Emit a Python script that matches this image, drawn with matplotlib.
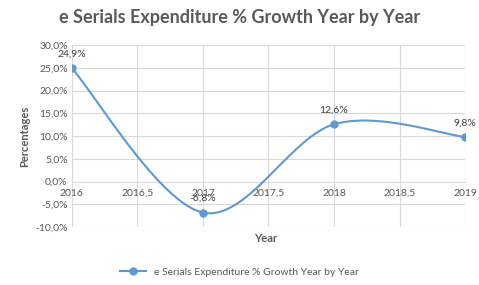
import numpy as np
import matplotlib
matplotlib.use("Agg")
import matplotlib.pyplot as plt
from matplotlib.ticker import FuncFormatter

years = [2016, 2017, 2018, 2019]
growth = [24.9, -6.8, 12.6, 9.8]
labels = ["24,9%", "-6,8%", "12,6%", "9,8%"]
series_name = "e Serials Expenditure % Growth Year by Year"

plt.rcParams['font.family'] = ['Lato', 'DejaVu Sans']
blue = '#5B9BD5'
gray = '#595959'

# excel-like smoothed line (bezier through the points)
x = np.array(years, dtype=float)
y = np.array(growth, dtype=float)
xs, ys = [], []
t = np.linspace(0, 1, 60)
for i in range(len(x) - 1):
    i0 = max(i - 1, 0)
    i3 = min(i + 2, len(x) - 1)
    p0 = np.array([x[i], y[i]])
    p3 = np.array([x[i + 1], y[i + 1]])
    c1 = p0 + (np.array([x[i + 1], y[i + 1]]) - np.array([x[i0], y[i0]])) / 6
    c2 = p3 - (np.array([x[i3], y[i3]]) - np.array([x[i], y[i]])) / 6
    b = ((1 - t) ** 3)[:, None] * p0 + (3 * (1 - t) ** 2 * t)[:, None] * c1 \
        + (3 * (1 - t) * t ** 2)[:, None] * c2 + (t ** 3)[:, None] * p3
    xs.extend(b[:, 0])
    ys.extend(b[:, 1])

fig = plt.figure(figsize=(4.79, 2.85), dpi=100)
ax = fig.add_axes([0.150, 0.203, 0.821, 0.639])

ax.plot(xs, ys, color=blue, lw=1.5, zorder=3)
ax.plot(years, growth, 'o', color=blue, ms=5, zorder=4)

for xx, yy, lab in zip(years, growth, labels):
    ax.annotate(lab, (xx, yy), xytext=(0, 7), textcoords='offset points',
                ha='center', va='bottom', fontsize=7.5, color='#404040')

ax.set_xlim(2016, 2019)
ax.set_ylim(-10, 30)
ax.set_xticks([2016, 2016.5, 2017, 2017.5, 2018, 2018.5, 2019])
ax.set_xticklabels(["2016", "2016,5", "2017", "2017,5", "2018", "2018,5", "2019"])
ax.set_yticks(np.arange(-10, 31, 5))
ax.yaxis.set_major_formatter(FuncFormatter(lambda v, p: ("%.1f%%" % v).replace('.', ',')))
ax.grid(True, color='#D9D9D9', lw=0.8)
ax.set_axisbelow(True)
for s in ['top', 'right', 'left']:
    ax.spines[s].set_visible(False)
ax.spines['bottom'].set_position(('data', 0))
ax.spines['bottom'].set_color('#D9D9D9')
ax.tick_params(length=0, labelsize=7.5, colors='#595959', pad=3)
ax.tick_params(axis='x', pad=5)

fig.text(0.5, 0.94, "e Serials Expenditure % Growth Year by Year", fontsize=13,
         fontweight='bold', color=gray, ha='center', va='center')
ax.set_ylabel("Percentages", fontsize=8, fontweight='bold', color=gray)
fig.text(0.555, 0.15, "Year", fontsize=8, fontweight='bold', color=gray, ha='center')

ax.legend([plt.Line2D([0], [0], color=blue, marker='o', ms=5, lw=1.5)], [series_name],
          loc='center', bbox_to_anchor=(0.5, 0.045), bbox_transform=fig.transFigure,
          frameon=False, fontsize=7.5, labelcolor='#595959', handlelength=2.5)

fig.savefig("out.png", dpi=100, facecolor='white')
